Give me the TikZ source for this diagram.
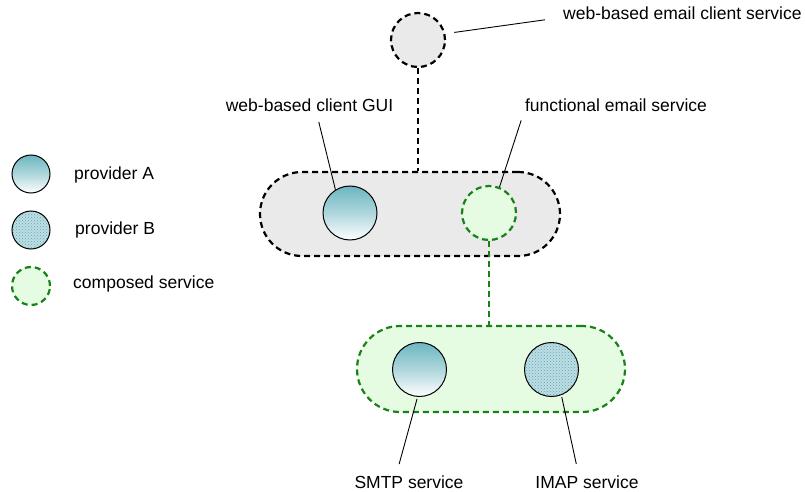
\documentclass[tikz,border=0pt]{standalone}
\usepackage{fontspec}
\setmainfont{Liberation Sans}
\usepackage{tikz}
\usetikzlibrary{positioning,patterns}
\definecolor{tealA}{RGB}{108,182,192}
\definecolor{tealB}{RGB}{96,166,182}
\definecolor{paleB}{RGB}{190,222,228}
\definecolor{boxgray}{RGB}{234,234,234}
\definecolor{compfill}{RGB}{229,252,226}
\definecolor{compline}{RGB}{24,130,24}

\begin{document}
\begin{tikzpicture}[
	x=1pt, y=-1pt,
	provA/.style={
		draw,
		circle,
		line width=1pt,
		inner sep=0pt,
		minimum size=54pt,
		top color=tealA,
		bottom color=white,
		middle color=tealA!55
	},
	provB/.style={
		draw,
		circle,
		line width=1pt,
		inner sep=0pt,
		minimum size=54pt,
		preaction={fill=paleB},
		pattern=crosshatch dots,
		pattern color=tealB
	},
	compo/.style={
		draw=compline,
		fill=compfill,
		circle,
		line width=2.2pt,
		dash pattern=on 6pt off 4pt,
		inner sep=0pt,
		minimum size=54pt
	},
	blackdash/.style={
		line width=2.2pt,
		dash pattern=on 6pt off 4pt
	},
	greendash/.style={
		blackdash,
		draw=compline
	},
	lbl/.style={
		font=\fontsize{17.5}{21}\selectfont,
		anchor=base
	},
	lead/.style={
		line width=0.9pt
	}
	]
	
	\useasboundingbox (0,0) rectangle (805,492);
	
	% legend
	\node[provA, minimum size=38pt] at (31, 174) (legA) {};
	\node[lbl, anchor=base west] at (70.7, 179) (txtA) {provider A};
	\node[provB, minimum size=38pt] at (31, 230) (legB) {};
	\node[lbl, anchor=base west] at (71.7, 234) (txtB) {provider B};
	\node[compo, minimum size=38pt] at (31, 286) (legC) {};
	\node[lbl, anchor=base west] at (69.7, 288) (txtC) {composed service};
	
	% web-based email client service
	\node[draw, fill=boxgray, circle, blackdash, minimum size=54pt] at (418, 40)
		(web) {};
	\node[lbl, anchor=base west] at (559.7, 20) (lblweb) {web-based email client service};
	\draw[lead, shorten <=9pt, shorten >=15pt] (web.13) -- ([yshift=-4pt]lblweb.west);
	
	\node[draw, fill=boxgray, blackdash, rectangle, rounded corners=42pt,
		minimum width=300pt, minimum height=84pt] at (410, 214) (client) {};
	\draw[blackdash] (web.south) -- (web.south |- client.north);
	
	\node[provA] at (350, 213) (gui) {};
	\node[compo] at (489, 213) (func) {};
	
	\node[lbl] at (309.5, 111) (lblgui) {web-based client GUI};
	\node[lbl] at (616, 111) (lblfunc) {functional email service};
	\draw[lead, shorten <=7.5pt] ([xshift=7.5pt]lblgui.south) -- (gui.122);
	\draw[lead, shorten <=6pt] ([xshift=-93pt]lblfunc.south) -- (func.68);
	
	% composed email service
	\node[draw=compline, fill=compfill, greendash, rectangle, rounded corners=43pt,
		minimum width=268pt, minimum height=86pt] at (491, 369) (mail) {};
	\draw[greendash] (func.south) -- (func.south |- mail.north);
	
	\node[provA] at (419.5, 369.5) (smtp) {};
	\node[provB] at (551.5, 369.5) (imap) {};
	
	\node[lbl] at (409, 488) (lblsmtp) {SMTP service};
	\node[lbl] at (587, 488) (lblimap) {IMAP service};
	\draw[lead, shorten <=2pt, shorten >=8pt] (smtp.-94) -- ([xshift=-12pt]lblsmtp.north);
	\draw[lead, shorten <=2pt, shorten >=8pt] (imap.-69) -- ([xshift=-9pt]lblimap.north);
	
\end{tikzpicture}
\end{document}
